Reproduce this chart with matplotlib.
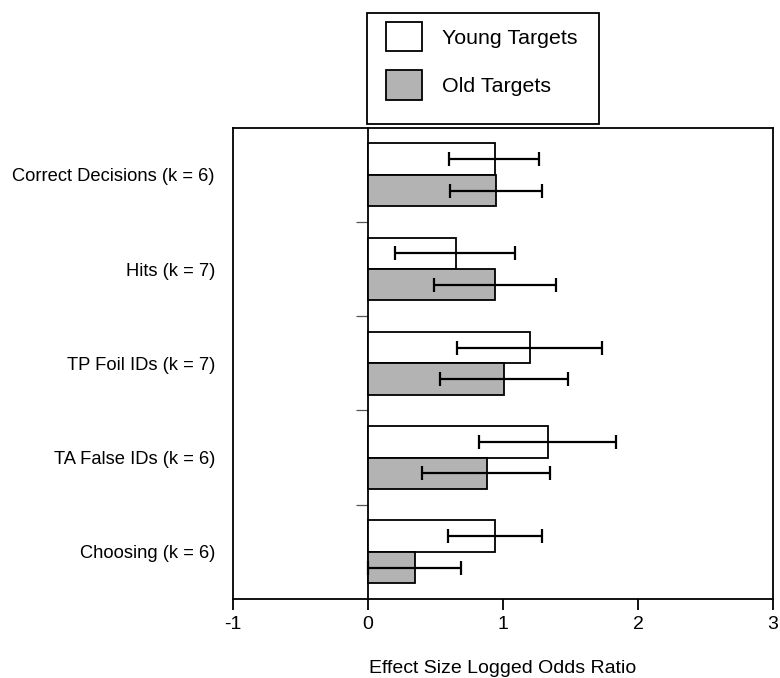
"""horizontal bar chart of effect sizes (logged odds ratio) by target age."""
import matplotlib
matplotlib.use("Agg")
import matplotlib.pyplot as plt
import numpy as np
from matplotlib.patches import Patch, Rectangle

categories = [
    "Correct Decisions (k = 6)",
    "Hits (k = 7)",
    "TP Foil IDs (k = 7)",
    "TA False IDs (k = 6)",
    "Choosing (k = 6)",
]
young = [0.94, 0.65, 1.20, 1.33, 0.94]
young_lo = [0.60, 0.20, 0.66, 0.82, 0.59]
young_hi = [1.27, 1.09, 1.73, 1.84, 1.29]
old = [0.95, 0.94, 1.01, 0.88, 0.345]
old_lo = [0.61, 0.49, 0.53, 0.40, 0.00]
old_hi = [1.29, 1.39, 1.48, 1.35, 0.69]
x_ticks = [-1, 0, 1, 2, 3]

plt.rcParams["font.family"] = ["Liberation Sans", "DejaVu Sans"]

W, H = 780, 678
fig = plt.figure(figsize=(W / 100, H / 100), dpi=100)
ax = fig.add_axes([233 / W, 1 - 599 / H, (773 - 233) / W, (599 - 127.7) / H])

y = np.arange(len(categories))
h = 0.333
gray = "#b3b3b3"

young = np.array(young)
old = np.array(old)
ax.barh(y - h / 2, young, height=h, color="white", edgecolor="black", linewidth=1.3, zorder=2)
ax.barh(y + h / 2, old, height=h, color=gray, edgecolor="black", linewidth=1.3, zorder=2)

err_kw = dict(fmt="none", ecolor="black", elinewidth=1.6, capsize=5, capthick=1.6, zorder=3)
ax.errorbar(young, y - h / 2, xerr=[young - np.array(young_lo), np.array(young_hi) - young], **err_kw)
ax.errorbar(old, y + h / 2, xerr=[old - np.array(old_lo), np.array(old_hi) - old], **err_kw)

ax.set_xlim(-1, 3)
ax.set_ylim(len(categories) - 0.5, -0.5)
ax.set_xticks(x_ticks)
ax.set_xticklabels([str(t) for t in x_ticks])
ax.set_yticks(y)
ax.set_yticklabels(categories)
ax.tick_params(axis="y", length=0, pad=13, labelsize=13.2)
ax.tick_params(axis="x", length=8, width=1.3, direction="out", pad=4, labelsize=14)
for sp in ax.spines.values():
    sp.set_linewidth(1.3)
ax.set_xlabel("Effect Size Logged Odds Ratio", fontsize=14, labelpad=20)

# zero line with group separator ticks
sec = ax.secondary_yaxis(0.25)
sec.spines["left"].set_linewidth(1.3)
sec.set_yticks(y[:-1] + 0.5)
sec.set_yticklabels([])
sec.tick_params(axis="y", length=8.5, width=0.9, direction="out", color="#555555")

handles = [
    Patch(facecolor="white", edgecolor="black", linewidth=1.3, label="Young Targets"),
    Patch(facecolor=gray, edgecolor="black", linewidth=1.3, label="Old Targets"),
]
fig.legend(handles=handles, loc="upper left", bbox_to_anchor=(385.7 / W, 1 - 22 / H),
           frameon=False, fontsize=15.4, borderpad=0, borderaxespad=0,
           handlelength=1.71, handleheight=1.73, handletextpad=0.9, labelspacing=0.89)
fig.patches.append(Rectangle((366.7 / W, 1 - 124 / H), (599 - 366.7) / W, (124 - 12.7) / H,
                             transform=fig.transFigure, fill=False, edgecolor="black",
                             linewidth=1.3))

fig.savefig("out.png", dpi=100)
